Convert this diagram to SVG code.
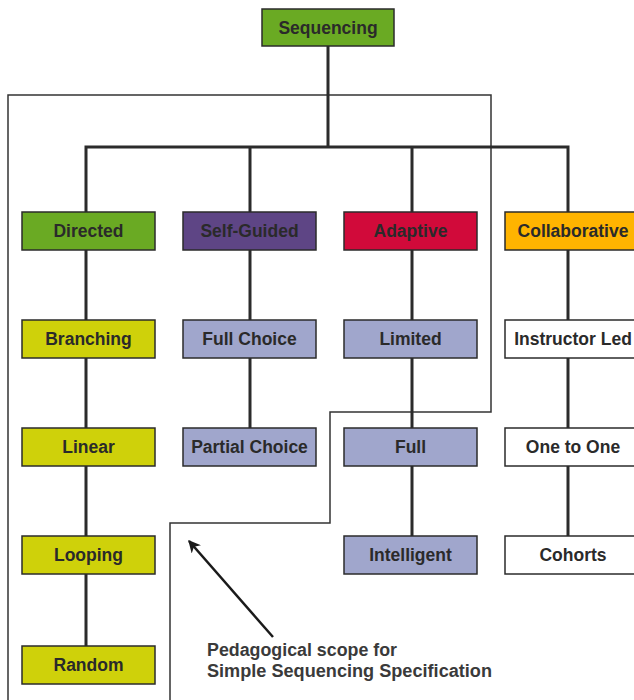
<svg xmlns="http://www.w3.org/2000/svg" width="634" height="700" viewBox="0 0 634 700">
<defs>
<style>
.box{stroke:#2b2b2b;stroke-width:1.5}
.lbl{font-family:"Liberation Sans",Arial,sans-serif;font-weight:bold;font-size:17.5px;fill:#2a2a2a;text-anchor:middle;dominant-baseline:central}
.ln{stroke:#2b2b2b;stroke-width:3;fill:none}
.scope{stroke:#333;stroke-width:1.5;fill:none}
.note{font-family:"Liberation Sans",Arial,sans-serif;font-weight:bold;font-size:17.5px;fill:#3a3a3a}
.g{fill:#6aaa23}.p{fill:#5e4585}.r{fill:#d10a3a}.o{fill:#ffb400}.y{fill:#cfd10a}.l{fill:#a0a6cc}.w{fill:#ffffff}
</style>
<marker id="ah" viewBox="0 0 10 10" refX="9" refY="5" markerWidth="5" markerHeight="5" orient="auto-start-reverse" markerUnits="strokeWidth">
<path d="M0,0 L10,5 L0,10 L3,5 z" fill="#1a1a1a"/>
</marker>
</defs>
<g id="scope">
<polyline class="scope" points="8,702 8,95 491,95 491,412 330,412 330,523 170,523 170,702"/>
</g>
<g id="connectors">
<path class="ln" d="M328,46 V147 M86,212 V147 H568 V212 M250,147 V212 M412,147 V212"/>
<path class="ln" d="M86,250 V646"/>
<path class="ln" d="M250,250 V428"/>
<path class="ln" d="M412,250 V536"/>
<path class="ln" d="M568,250 V536"/>
<line x1="273" y1="637" x2="189" y2="541" stroke="#1a1a1a" stroke-width="2.5" marker-end="url(#ah)"/>
</g>
<g id="n-sequencing"><rect class="box g" x="262" y="9" width="132" height="37"/><text class="lbl" x="328" y="27.5">Sequencing</text></g>
<g id="n-directed"><rect class="box g" x="22" y="212" width="133" height="38"/><text class="lbl" x="88.5" y="231">Directed</text></g>
<g id="n-selfguided"><rect class="box p" x="183" y="212" width="133" height="38"/><text class="lbl" x="249.5" y="231">Self-Guided</text></g>
<g id="n-adaptive"><rect class="box r" x="344" y="212" width="133" height="38"/><text class="lbl" x="410.5" y="231">Adaptive</text></g>
<g id="n-collaborative"><rect class="box o" x="505" y="212" width="140" height="38"/><text class="lbl" x="573" y="231">Collaborative</text></g>
<g id="n-branching"><rect class="box y" x="22" y="320" width="133" height="38"/><text class="lbl" x="88.5" y="339">Branching</text></g>
<g id="n-linear"><rect class="box y" x="22" y="428" width="133" height="38"/><text class="lbl" x="88.5" y="447">Linear</text></g>
<g id="n-looping"><rect class="box y" x="22" y="536" width="133" height="38"/><text class="lbl" x="88.5" y="555">Looping</text></g>
<g id="n-random"><rect class="box y" x="22" y="646" width="133" height="38"/><text class="lbl" x="88.5" y="665">Random</text></g>
<g id="n-fullchoice"><rect class="box l" x="183" y="320" width="133" height="38"/><text class="lbl" x="249.5" y="339">Full Choice</text></g>
<g id="n-partialchoice"><rect class="box l" x="183" y="428" width="133" height="38"/><text class="lbl" x="249.5" y="447">Partial Choice</text></g>
<g id="n-limited"><rect class="box l" x="344" y="320" width="133" height="38"/><text class="lbl" x="410.5" y="339">Limited</text></g>
<g id="n-full"><rect class="box l" x="344" y="428" width="133" height="38"/><text class="lbl" x="410.5" y="447">Full</text></g>
<g id="n-intelligent"><rect class="box l" x="344" y="536" width="133" height="38"/><text class="lbl" x="410.5" y="555">Intelligent</text></g>
<g id="n-instructorled"><rect class="box w" x="505" y="320" width="140" height="38"/><text class="lbl" x="573" y="339">Instructor Led</text></g>
<g id="n-onetoone"><rect class="box w" x="505" y="428" width="140" height="38"/><text class="lbl" x="573" y="447">One to One</text></g>
<g id="n-cohorts"><rect class="box w" x="505" y="536" width="140" height="38"/><text class="lbl" x="573" y="555">Cohorts</text></g>
<g id="note">
<text class="note" x="207" y="656" textLength="190" lengthAdjust="spacingAndGlyphs">Pedagogical scope for</text>
<text class="note" x="207" y="677" textLength="285" lengthAdjust="spacingAndGlyphs">Simple Sequencing Specification</text>
</g>
</svg>
